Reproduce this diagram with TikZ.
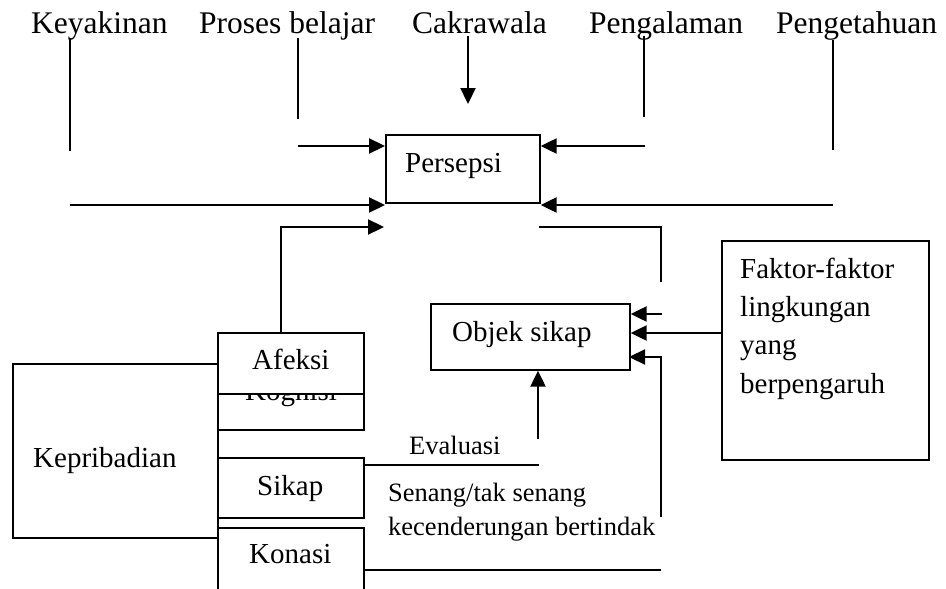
\documentclass[tikz,border=0pt]{standalone}
\usepackage{fontspec}
\setmainfont{Liberation Serif}
\usetikzlibrary{arrows.meta}
\tikzset{
  box/.style={draw, line width=1.7pt, inner sep=0pt, anchor=north west},
  wbox/.style={box, fill=white},
  toplbl/.style={anchor=base west, inner sep=0pt, font=\fontsize{31.5}{36}\selectfont},
  lbl/.style={anchor=base west, inner sep=0pt, font=\fontsize{29}{34}\selectfont},
  small/.style={anchor=base west, inner sep=0pt, font=\fontsize{26.5}{31}\selectfont},
  ln/.style={line width=1.5pt},
  thk/.style={line width=1.8pt},
  arr/.style={line width=2.3pt, -{Triangle[length=16pt,width=15pt]}},
}
\begin{document}
\begin{tikzpicture}[x=1pt,y=-1pt]
\useasboundingbox (0,0) rectangle (946,589);
\clip (0,0) rectangle (946,589);
\fill[white] (0,0) rectangle (946,589);

% top labels
\node[toplbl] (keyakinan) at (31,33) {Keyakinan};
\node[toplbl] (proses) at (199,33) {Proses belajar};
\node[toplbl] (cakrawala) at (412,33) {Cakrawala};
\node[toplbl] (pengalaman) at (589,33) {Pengalaman};
\node[toplbl] (pengetahuan) at (776,33) {Pengetahuan};

% boxes
\node[box, minimum width=154pt, minimum height=68pt] (persepsi) at (385,134) {};
\node[lbl] (persepsiT) at (405,172) {Persepsi};

\node[box, minimum width=199pt, minimum height=66pt] (objek) at (430,303) {};
\node[lbl] (objekT) at (452,341) {Objek sikap};

\node[box, minimum width=207pt, minimum height=219pt] (faktor) at (721,240) {};
\node[lbl] (faktorA) at (740,278) {Faktor-faktor};
\node[lbl] (faktorB) at (740,316) {lingkungan};
\node[lbl] (faktorC) at (740,354) {yang};
\node[lbl] (faktorD) at (740,393) {berpengaruh};

\node[box, minimum width=205pt, minimum height=174pt] (kepribadian) at (12,363) {};
\node[lbl] (kepribadianT) at (33,467) {Kepribadian};

\node[box, minimum width=146pt, minimum height=69pt] (kognisi) at (217,360) {};
\node[lbl] (kognisiT) at (245,400) {Kognisi};
\node[wbox, minimum width=146pt, minimum height=61pt] (afeksi) at (217,332) {};
\node[lbl] (afeksiT) at (252,369) {Afeksi};

\node[box, minimum width=146pt, minimum height=60pt] (sikap) at (217,457) {};
\node[lbl] (sikapT) at (257,495) {Sikap};

\node[box, minimum width=146pt, minimum height=80pt] (konasi) at (217,527) {};
\node[lbl] (konasiT) at (249,563) {Konasi};

% small labels
\node[small] (evaluasi) at (409,454) {Evaluasi};
\node[small] (senang) at (388,501) {Senang/tak senang};
\node[small] (kecend) at (388,535) {kecenderungan bertindak};

% coordinates
\coordinate (kyA) at (70,38);  \coordinate (kyB) at (70,151);  \coordinate (kyC) at (70,205);
\coordinate (prA) at (298,38); \coordinate (prB) at (298,119); \coordinate (prC) at (298,146);
\coordinate (caA) at (468,36); \coordinate (caB) at (468,104);
\coordinate (peA) at (644,36); \coordinate (peB) at (644,117); \coordinate (peC) at (645,146);
\coordinate (ptA) at (833,40); \coordinate (ptB) at (833,150); \coordinate (ptC) at (833,205);
\coordinate (afA) at (281,334); \coordinate (afB) at (384,227);
\coordinate (rtA) at (539,227); \coordinate (rtB) at (661,227); \coordinate (rtC) at (661,282);
\coordinate (obA) at (662,314);
\coordinate (fkA) at (721,333);
\coordinate (vrA) at (661,517); \coordinate (vrB) at (629,357);
\coordinate (upA) at (538,439);
\coordinate (evA) at (539,465);
\coordinate (knA) at (661,570);

% connectors
\draw[ln] (kyA) -- (kyB);
\draw[arr] (kyC) -- (persepsi.west |- kyC);
\draw[ln] (prA) -- (prB);
\draw[arr] (prC) -- (persepsi.west |- prC);
\draw[arr] (caA) -- (caB);
\draw[ln] (peA) -- (peB);
\draw[arr] (peC) -- (persepsi.east |- peC);
\draw[ln] (ptA) -- (ptB);
\draw[arr] (ptC) -- (persepsi.east |- ptC);
\draw[arr] (afA) |- (afB);
\draw[thk] (rtA) -- (rtB) -- (rtC);
\draw[arr] (obA) -- (objek.east |- obA);
\draw[arr] (fkA) -- (objek.east |- fkA);
\draw[arr] (vrA) |- (vrB);
\draw[arr] (upA) -- (objek.south -| upA);
\draw[thk] (sikap.east |- evA) -- (evA);
\draw[thk] (konasi.east |- knA) -- (knA);
\end{tikzpicture}
\end{document}
